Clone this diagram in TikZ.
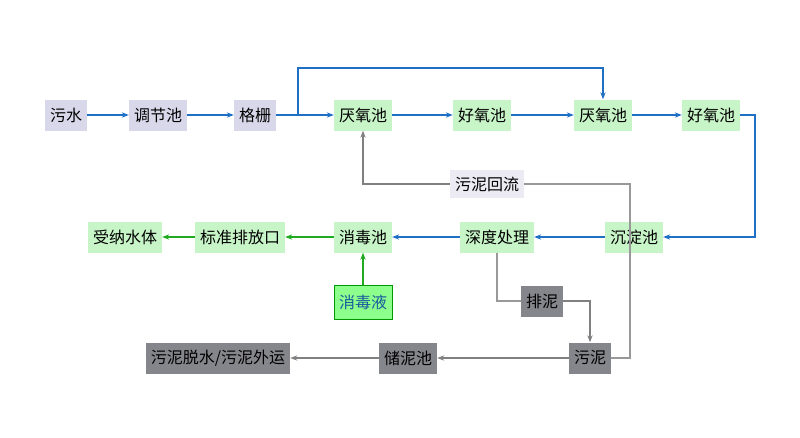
\documentclass[tikz,border=0pt]{standalone}
\usepackage{fontspec}
\newfontfamily\cjk{Noto Sans CJK SC}
\usepackage{tikz}
\usetikzlibrary{arrows.meta}
\definecolor{lav}{HTML}{D9D8EA}
\definecolor{lgreen}{HTML}{C8F5C8}
\definecolor{dgray}{HTML}{85858C}
\definecolor{flowblue}{HTML}{1F6FC5}
\definecolor{flowgreen}{HTML}{1FAA1F}
\begin{document}
\begin{tikzpicture}[x=1pt, y=-1pt, font = \cjk\fontsize{16}{16}\selectfont,
    box/.style = {minimum height = 31pt, inner xsep = 5pt},
    inbox/.style = {box, fill = lav},
    wbox/.style = {box, fill = lgreen},
    gbox/.style = {box, fill = dgray},
    blue arrow/.style = {draw = flowblue, line width = 1.2pt, -{Stealth[length=7pt]}},
    green arrow/.style = {draw = flowgreen, line width = 1.2pt, -{Stealth[length=7pt]}},
    gray arrow/.style = {draw = gray, line width = 1.1pt, -{Stealth[length=7pt]}}]
        \useasboundingbox (0,0) rectangle (800,437);
        
        \node [inbox] (ws) at (66,115) {污水};
        \node [inbox] (tj) at (158,115) {调节池};
        \node [inbox] (gs) at (255,115) {格栅};
        \node [wbox] (ya1) at (363,115) {厌氧池};
        \node [wbox] (hy1) at (482,115) {好氧池};
        \node [wbox] (ya2) at (603,115) {厌氧池};
        \node [wbox] (hy2) at (711,115) {好氧池};
        
        \node [wbox] (cd) at (634,237) {沉淀池};
        \node [wbox] (sd) at (497,237) {深度处理};
        \node [wbox] (xd) at (363,237) {消毒池};
        \node [wbox] (bz) at (240,237) {标准排放口};
        \node [wbox] (sn) at (125,237) {受纳水体};
        \node [box, fill = green!45, draw = green!60!black, text = flowblue!80!black, minimum height = 34pt] (xdy) at (363,302) {消毒液};
        
        \node [box, fill = lav!50, minimum height = 28pt] (hl) at (487,184) {污泥回流};
        \node [gbox] (pn) at (542,301) {排泥};
        \node [gbox] (wn) at (590,358) {污泥};
        \node [gbox] (cn) at (408,358) {储泥池};
        \node [gbox] (ts) at (218,358) {污泥脱水/污泥外运};
        \coordinate (sp) at (298,115);
        
        \draw [blue arrow] (ws) -- (tj);
        \draw [blue arrow] (tj) -- (gs);
        \draw [blue arrow] (gs) -- (ya1);
        \draw [blue arrow] (ya1) -- (hy1);
        \draw [blue arrow] (hy1) -- (ya2);
        \draw [blue arrow] (ya2) -- (hy2);
        \draw [blue arrow] (sp) -- (298,68) -| (ya2);
        \draw [blue arrow] (hy2.east) -- (755,115) |- (cd.east);
        \draw [blue arrow] (cd) -- (sd);
        \draw [blue arrow] (sd) -- (xd);
        
        \draw [green arrow] (xd) -- (bz);
        \draw [green arrow] (bz) -- (sn);
        \draw [green arrow] (xdy) -- (xd);
        
        \draw [gray!80, line width = 1.1pt] (wn.east) -- (630,358) |- (hl.east);
        \draw [gray arrow] (hl.west) -| (ya1.south);
        \draw [gray!80, line width = 1.1pt] (sd.south) |- (pn.west);
        \draw [gray arrow] (pn.east) -| (wn.north);
        \draw [gray arrow] (wn) -- (cn);
        \draw [gray arrow] (cn) -- (ts);
    \end{tikzpicture}
\end{document}
